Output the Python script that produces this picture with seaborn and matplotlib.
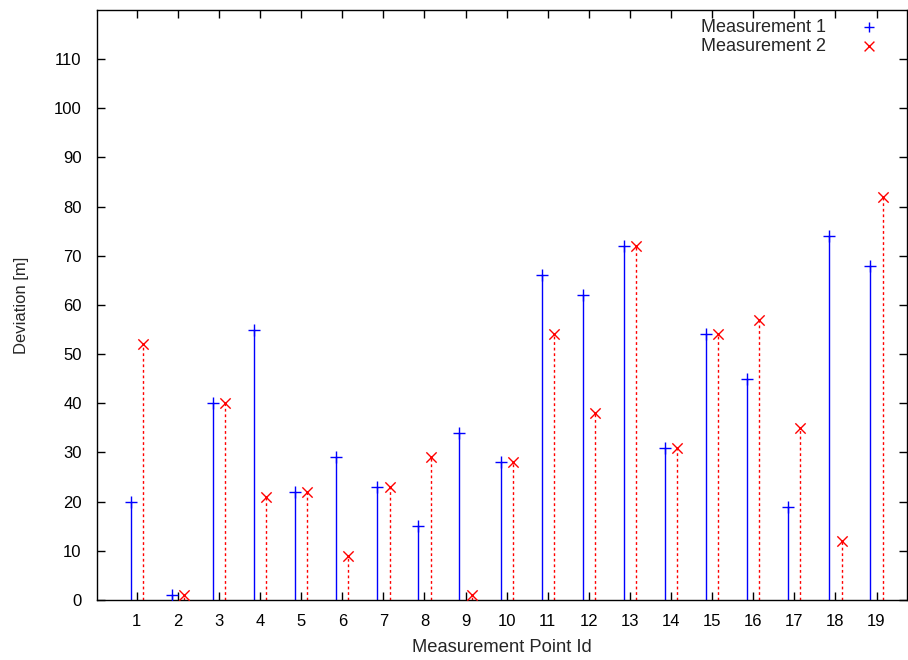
import matplotlib
matplotlib.use("Agg")
import matplotlib.pyplot as plt
import numpy as np
import pandas as pd
import seaborn as sns

point_ids = list(range(1, 20))
measurement_1 = [20, 1, 40, 55, 22, 29, 23, 15, 34, 28, 66, 62, 72, 31, 54, 45, 19, 74, 68]
measurement_2 = [52, 1, 40, 21, 22, 9, 23, 29, 1, 28, 54, 38, 72, 31, 54, 57, 35, 12, 82]
y_ticks = list(range(0, 111, 10))

sns.set_style("ticks")
plt.rcParams["font.family"] = ["Liberation Sans", "DejaVu Sans"]

OFFSET = 0.15
df1 = pd.DataFrame({"x": np.array(point_ids) - OFFSET, "y": measurement_1})
df2 = pd.DataFrame({"x": np.array(point_ids) + OFFSET, "y": measurement_2})

fig = plt.figure(figsize=(9.08, 6.6), dpi=100)
ax = fig.add_axes([0.1068, 0.0909, 0.892, 0.894])

ax.vlines(df1["x"], 0, df1["y"], color="#0000ff", linewidth=1.0)
ax.vlines(df2["x"], 0, df2["y"], color="#ff0000", linewidth=1.0, linestyles=(0, (2, 2)))
sns.scatterplot(data=df1, x="x", y="y", marker="+", s=80, color="#0000ff",
                linewidth=1.0, ax=ax, label="Measurement 1", zorder=3)
sns.scatterplot(data=df2, x="x", y="y", marker="x", s=55, color="#ff0000",
                linewidth=1.0, ax=ax, label="Measurement 2", zorder=3)

ax.set_xlim(0.03, 19.74)
ax.set_ylim(0, 120)
ax.set_xticks(point_ids)
ax.set_yticks(y_ticks)
ax.tick_params(direction="in", length=6, width=1, top=True, right=True,
               labelsize=12, colors="black")
ax.tick_params(axis="y", pad=11)
ax.tick_params(axis="x", pad=10)
for side in ax.spines.values():
    side.set_linewidth(1.0)
    side.set_color("black")

ax.set_xlabel("Measurement Point Id", fontsize=13.2, labelpad=7)
ax.set_ylabel("Deviation [m]", fontsize=12, labelpad=18)

leg = ax.legend(loc="upper right", frameon=False, markerfirst=False, fontsize=13,
                handletextpad=1.4, borderaxespad=0.0, labelspacing=0.1,
                bbox_to_anchor=(0.985, 0.997))
for h in leg.legend_handles:
    h.set_sizes([50])

fig.savefig("out.png", dpi=100)
